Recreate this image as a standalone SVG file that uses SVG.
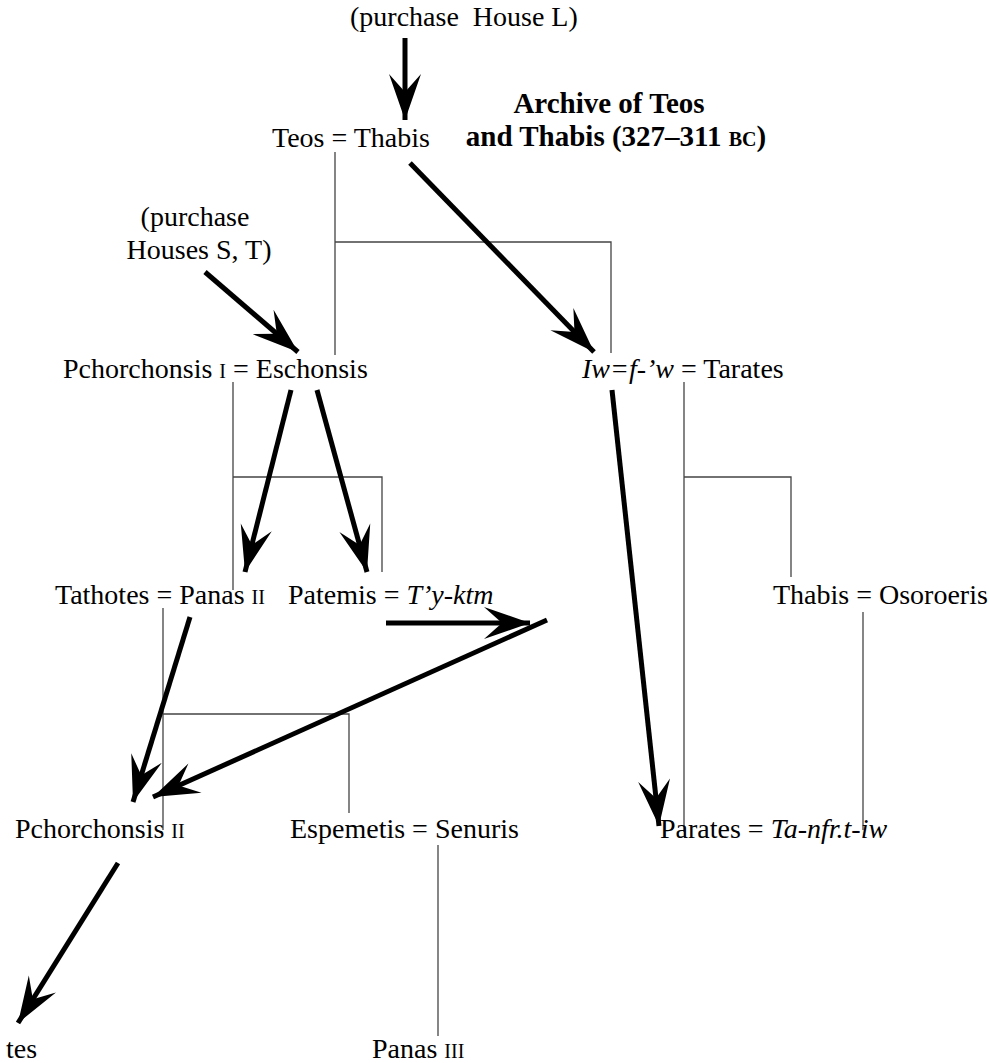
<svg xmlns="http://www.w3.org/2000/svg" width="989" height="1063" viewBox="0 0 989 1063">
<style>
text{font-family:"Liberation Serif","Times New Roman",serif;font-size:28px;fill:#000}
.it{font-style:italic}
.sc{font-size:20px}
.title{font-weight:bold;font-size:29px}
.tsc{font-size:20px}
.kin{fill:none;stroke:#444;stroke-width:1.3}
.arr{fill:none;stroke:#000;stroke-width:5;marker-end:url(#head)}
</style>
<defs>
<marker id="head" viewBox="-48 -18 50 36" markerWidth="50" markerHeight="36" refX="0" refY="0" orient="auto" markerUnits="userSpaceOnUse">
<path d="M0,0 L-46,-16 L-28,0 L-46,16 Z" fill="#000"/>
</marker>
</defs>
<g id="connectors">
<path class="kin" d="M335,152 V355 M335,242 H611 V353"/>
<path class="kin" d="M233,382 V590 M233,477 H382 V572"/>
<path class="kin" d="M684,382 V832 M684,477 H791 V577"/>
<path class="kin" d="M163,608 V830 M163,714 H349 V813"/>
<path class="kin" d="M863,612 V830"/>
<path class="kin" d="M438,845 V1036"/>
<line class="arr" x1="405" y1="38" x2="405" y2="120"/>
<line class="arr" x1="410" y1="163" x2="594" y2="352"/>
<line class="arr" x1="205" y1="272" x2="298" y2="352"/>
<line class="arr" x1="291" y1="390" x2="245" y2="572"/>
<line class="arr" x1="317" y1="390" x2="367" y2="572"/>
<line class="arr" x1="612" y1="390" x2="659" y2="826"/>
<line class="arr" x1="190" y1="617" x2="133" y2="802"/>
<line class="arr" x1="386" y1="623" x2="530" y2="623"/>
<line class="arr" x1="547" y1="620" x2="153" y2="797"/>
<line class="arr" x1="118" y1="863" x2="18" y2="1023"/>
</g>
<g id="purchase-L"><text x="350" y="26" style="white-space:pre">(purchase  House L)</text></g>
<g id="title">
<text class="title" x="609" y="113" text-anchor="middle">Archive of Teos</text>
<text class="title" x="616" y="146" text-anchor="middle">and Thabis (327–311 <tspan class="tsc">BC</tspan>)</text>
</g>
<g id="teos-thabis"><text x="272" y="147">Teos = Thabis</text></g>
<g id="purchase-ST">
<text x="195" y="226" text-anchor="middle">(purchase</text>
<text x="199" y="259" text-anchor="middle">Houses S, T)</text>
</g>
<g id="pchorchonsis1-eschonsis"><text x="63" y="378">Pchorchonsis <tspan class="sc">I</tspan> = Eschonsis</text></g>
<g id="iwfw-tarates"><text x="582" y="378"><tspan class="it">Iw=f-’w</tspan> = Tarates</text></g>
<g id="tathotes-panas2"><text x="55" y="604">Tathotes = Panas <tspan class="sc">II</tspan></text></g>
<g id="patemis-tyktm"><text x="288" y="604">Patemis = <tspan class="it">T’y-ktm</tspan></text></g>
<g id="thabis-osoroeris"><text x="773" y="604">Thabis = Osoroeris</text></g>
<g id="pchorchonsis2"><text x="15" y="838">Pchorchonsis <tspan class="sc">II</tspan></text></g>
<g id="espemetis-senuris"><text x="290" y="838">Espemetis = Senuris</text></g>
<g id="parates-tanfrtiw"><text x="660" y="838">Parates = <tspan class="it">Ta-nfr.t-iw</tspan></text></g>
<g id="tes"><text x="6" y="1058">tes</text></g>
<g id="panas3"><text x="372" y="1058">Panas <tspan class="sc">III</tspan></text></g>
</svg>
